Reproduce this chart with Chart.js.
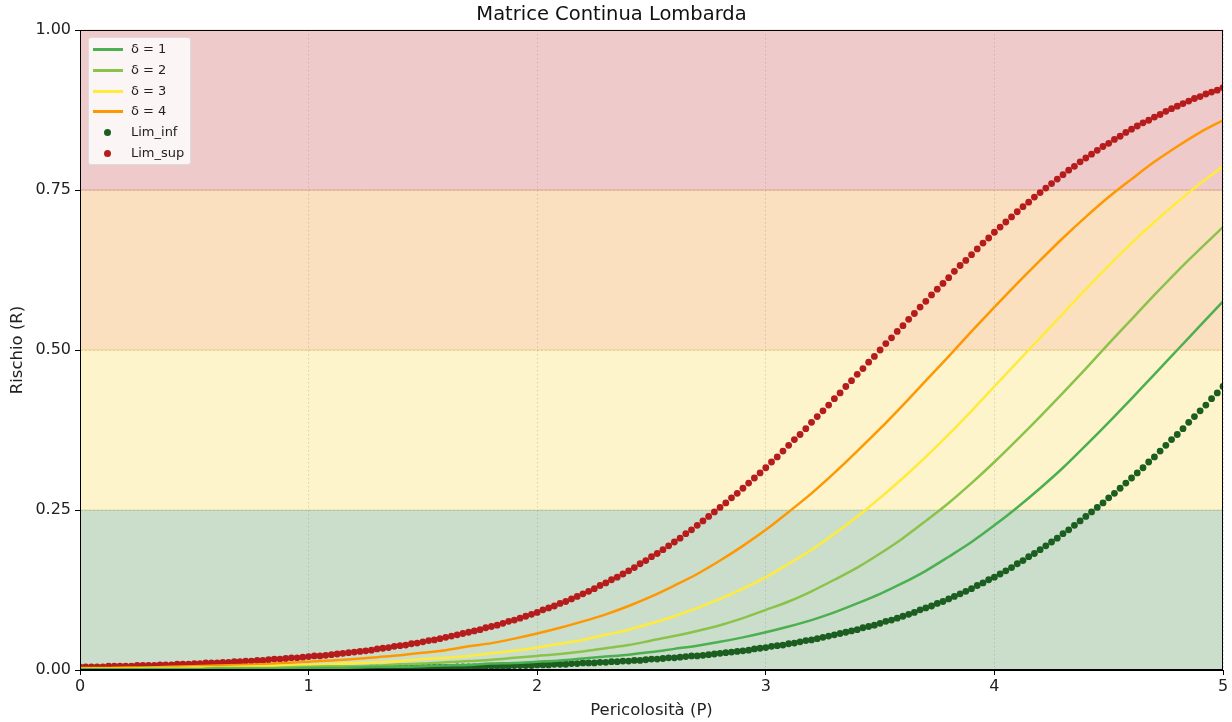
<!DOCTYPE html>
<html>
<head>
<meta charset="utf-8">
<script src="https://cdn.jsdelivr.net/npm/chart.js@4"></script>
<style>
  body { margin: 0; background: #fff; }
  #wrap { position: relative; width: 1232px; height: 722px; }
  #legend {
    position: absolute; left: 88px; top: 37px; width: 103px; height: 128px;
    background: rgba(255, 255, 255, 0.8); border: 1px solid #dcdcdc; border-radius: 3px;
    box-sizing: border-box; font-family: "DejaVu Sans", sans-serif; font-size: 13px; color: #222;
  }
  .row { position: absolute; left: 0; height: 18px; width: 100%; }
  .row .txt { position: absolute; left: 42px; top: 0; line-height: 18px; white-space: nowrap; }
  .row .ln { position: absolute; left: 4px; top: 8px; width: 30px; height: 3px; }
  .row .dot { position: absolute; left: 15px; top: 5.5px; width: 7px; height: 7px; border-radius: 50%; }
</style>
</head>
<body>
<div id="wrap">
  <canvas id="riskChart" width="1232" height="722"></canvas>
  <div id="legend"></div>
</div>
<script>
// asse x dei limiti (punti)
var limX = [
  0, 0.025, 0.05, 0.075, 0.1, 0.125, 0.15, 0.175,
  0.2, 0.225, 0.25, 0.275, 0.3, 0.325, 0.35, 0.375,
  0.4, 0.425, 0.45, 0.475, 0.5, 0.525, 0.55, 0.575,
  0.6, 0.625, 0.65, 0.675, 0.7, 0.725, 0.75, 0.775,
  0.8, 0.825, 0.85, 0.875, 0.9, 0.925, 0.95, 0.975,
  1.0, 1.025, 1.05, 1.075, 1.1, 1.125, 1.15, 1.175,
  1.2, 1.225, 1.25, 1.275, 1.3, 1.325, 1.35, 1.375,
  1.4, 1.425, 1.45, 1.475, 1.5, 1.525, 1.55, 1.575,
  1.6, 1.625, 1.65, 1.675, 1.7, 1.725, 1.75, 1.775,
  1.8, 1.825, 1.85, 1.875, 1.9, 1.925, 1.95, 1.975,
  2.0, 2.025, 2.05, 2.075, 2.1, 2.125, 2.15, 2.175,
  2.2, 2.225, 2.25, 2.275, 2.3, 2.325, 2.35, 2.375,
  2.4, 2.425, 2.45, 2.475, 2.5, 2.525, 2.55, 2.575,
  2.6, 2.625, 2.65, 2.675, 2.7, 2.725, 2.75, 2.775,
  2.8, 2.825, 2.85, 2.875, 2.9, 2.925, 2.95, 2.975,
  3.0, 3.025, 3.05, 3.075, 3.1, 3.125, 3.15, 3.175,
  3.2, 3.225, 3.25, 3.275, 3.3, 3.325, 3.35, 3.375,
  3.4, 3.425, 3.45, 3.475, 3.5, 3.525, 3.55, 3.575,
  3.6, 3.625, 3.65, 3.675, 3.7, 3.725, 3.75, 3.775,
  3.8, 3.825, 3.85, 3.875, 3.9, 3.925, 3.95, 3.975,
  4.0, 4.025, 4.05, 4.075, 4.1, 4.125, 4.15, 4.175,
  4.2, 4.225, 4.25, 4.275, 4.3, 4.325, 4.35, 4.375,
  4.4, 4.425, 4.45, 4.475, 4.5, 4.525, 4.55, 4.575,
  4.6, 4.625, 4.65, 4.675, 4.7, 4.725, 4.75, 4.775,
  4.8, 4.825, 4.85, 4.875, 4.9, 4.925, 4.95, 4.975,
  5.0
];

var limInf = [
  0, 0, 0, 0, 0, 0, 0, 0,
  0, 0.001, 0.001, 0.001, 0.001, 0.001, 0.001, 0.001,
  0.001, 0.001, 0.001, 0.001, 0.001, 0.001, 0.001, 0.001,
  0.001, 0.001, 0.001, 0.001, 0.001, 0.001, 0.001, 0.001,
  0.001, 0.001, 0.001, 0.001, 0.001, 0.001, 0.002, 0.002,
  0.002, 0.002, 0.002, 0.002, 0.002, 0.002, 0.002, 0.002,
  0.002, 0.002, 0.002, 0.003, 0.003, 0.003, 0.003, 0.003,
  0.003, 0.003, 0.003, 0.003, 0.004, 0.004, 0.004, 0.004,
  0.004, 0.004, 0.005, 0.005, 0.005, 0.005, 0.005, 0.006,
  0.006, 0.006, 0.006, 0.006, 0.007, 0.007, 0.007, 0.007,
  0.008, 0.008, 0.008, 0.009, 0.009, 0.009, 0.010, 0.010,
  0.011, 0.011, 0.011, 0.012, 0.012, 0.013, 0.013, 0.014,
  0.014, 0.015, 0.015, 0.016, 0.017, 0.017, 0.018, 0.019,
  0.019, 0.020, 0.021, 0.022, 0.022, 0.023, 0.024, 0.025,
  0.026, 0.027, 0.028, 0.029, 0.030, 0.031, 0.033, 0.034,
  0.035, 0.037, 0.038, 0.039, 0.041, 0.042, 0.044, 0.046,
  0.047, 0.049, 0.051, 0.053, 0.055, 0.057, 0.059, 0.061,
  0.063, 0.066, 0.068, 0.070, 0.073, 0.076, 0.078, 0.081,
  0.084, 0.087, 0.090, 0.094, 0.097, 0.100, 0.104, 0.107,
  0.111, 0.115, 0.119, 0.123, 0.127, 0.132, 0.136, 0.141,
  0.145, 0.150, 0.155, 0.160, 0.166, 0.171, 0.177, 0.182,
  0.188, 0.194, 0.200, 0.206, 0.213, 0.219, 0.226, 0.233,
  0.240, 0.247, 0.254, 0.261, 0.269, 0.276, 0.284, 0.292,
  0.300, 0.308, 0.316, 0.325, 0.333, 0.342, 0.351, 0.360,
  0.368, 0.377, 0.387, 0.396, 0.405, 0.414, 0.424, 0.433,
  0.443
];

var limSup = [
  0.005, 0.005, 0.005, 0.005, 0.005, 0.006, 0.006, 0.006,
  0.006, 0.006, 0.007, 0.007, 0.007, 0.007, 0.008, 0.008,
  0.008, 0.009, 0.009, 0.009, 0.010, 0.010, 0.011, 0.011,
  0.011, 0.012, 0.012, 0.013, 0.013, 0.014, 0.014, 0.015,
  0.015, 0.016, 0.017, 0.017, 0.018, 0.019, 0.019, 0.020,
  0.021, 0.022, 0.022, 0.023, 0.024, 0.025, 0.026, 0.027,
  0.028, 0.029, 0.030, 0.031, 0.033, 0.034, 0.035, 0.037,
  0.038, 0.039, 0.041, 0.042, 0.044, 0.046, 0.047, 0.049,
  0.051, 0.053, 0.055, 0.057, 0.059, 0.061, 0.063, 0.066,
  0.068, 0.070, 0.073, 0.076, 0.078, 0.081, 0.084, 0.087,
  0.090, 0.094, 0.097, 0.100, 0.104, 0.107, 0.111, 0.115,
  0.119, 0.123, 0.127, 0.132, 0.136, 0.141, 0.145, 0.150,
  0.155, 0.160, 0.166, 0.171, 0.177, 0.182, 0.188, 0.194,
  0.200, 0.206, 0.213, 0.219, 0.226, 0.233, 0.240, 0.247,
  0.254, 0.261, 0.269, 0.276, 0.284, 0.292, 0.300, 0.308,
  0.316, 0.325, 0.333, 0.342, 0.351, 0.360, 0.368, 0.377,
  0.387, 0.396, 0.405, 0.414, 0.424, 0.433, 0.443, 0.452,
  0.462, 0.471, 0.481, 0.490, 0.500, 0.510, 0.519, 0.529,
  0.538, 0.548, 0.557, 0.567, 0.576, 0.586, 0.595, 0.604,
  0.613, 0.623, 0.632, 0.640, 0.649, 0.658, 0.667, 0.675,
  0.684, 0.692, 0.700, 0.708, 0.716, 0.724, 0.731, 0.739,
  0.746, 0.753, 0.760, 0.767, 0.774, 0.781, 0.787, 0.794,
  0.800, 0.806, 0.812, 0.818, 0.823, 0.829, 0.834, 0.840,
  0.845, 0.850, 0.855, 0.859, 0.864, 0.868, 0.873, 0.877,
  0.881, 0.885, 0.889, 0.893, 0.896, 0.900, 0.903, 0.906,
  0.910
];

// curve delta (passo 0.1)
var lineX = [
  0, 0.1, 0.2, 0.3, 0.4, 0.5, 0.6, 0.7, 0.8, 0.9,
  1.0, 1.1, 1.2, 1.3, 1.4, 1.5, 1.6, 1.7, 1.8, 1.9,
  2.0, 2.1, 2.2, 2.3, 2.4, 2.5, 2.6, 2.7, 2.8, 2.9,
  3.0, 3.1, 3.2, 3.3, 3.4, 3.5, 3.6, 3.7, 3.8, 3.9,
  4.0, 4.1, 4.2, 4.3, 4.4, 4.5, 4.6, 4.7, 4.8, 4.9,
  5.0
];

var delta1 = [
  0.001, 0.001, 0.001, 0.001, 0.001, 0.001, 0.002, 0.002, 0.002, 0.002,
  0.003, 0.003, 0.004, 0.005, 0.005, 0.006, 0.007, 0.008, 0.010, 0.011,
  0.013, 0.015, 0.018, 0.021, 0.024, 0.028, 0.033, 0.038, 0.044, 0.051,
  0.059, 0.068, 0.078, 0.090, 0.104, 0.119, 0.136, 0.155, 0.177, 0.200,
  0.226, 0.254, 0.284, 0.316, 0.351, 0.387, 0.424, 0.462, 0.500, 0.538,
  0.576
];

var delta2 = [
  0.001, 0.001, 0.001, 0.002, 0.002, 0.002, 0.003, 0.003, 0.003, 0.004,
  0.005, 0.006, 0.006, 0.007, 0.009, 0.010, 0.012, 0.014, 0.016, 0.019,
  0.022, 0.025, 0.029, 0.034, 0.039, 0.046, 0.053, 0.061, 0.070, 0.081,
  0.094, 0.107, 0.123, 0.141, 0.160, 0.182, 0.206, 0.233, 0.261, 0.292,
  0.325, 0.360, 0.396, 0.433, 0.471, 0.510, 0.548, 0.586, 0.623, 0.658,
  0.692
];

var delta3 = [
  0.002, 0.002, 0.002, 0.003, 0.003, 0.004, 0.004, 0.005, 0.006, 0.007,
  0.008, 0.009, 0.011, 0.012, 0.014, 0.017, 0.019, 0.022, 0.026, 0.030,
  0.035, 0.041, 0.047, 0.055, 0.063, 0.073, 0.084, 0.097, 0.111, 0.127,
  0.145, 0.166, 0.188, 0.213, 0.240, 0.269, 0.300, 0.333, 0.368, 0.405,
  0.443, 0.481, 0.519, 0.557, 0.595, 0.632, 0.667, 0.700, 0.731, 0.760,
  0.787
];

var delta4 = [
  0.003, 0.003, 0.004, 0.004, 0.005, 0.006, 0.007, 0.008, 0.009, 0.011,
  0.013, 0.015, 0.017, 0.020, 0.023, 0.027, 0.031, 0.037, 0.042, 0.049,
  0.057, 0.066, 0.076, 0.087, 0.100, 0.115, 0.132, 0.150, 0.171, 0.194,
  0.219, 0.247, 0.276, 0.308, 0.342, 0.377, 0.414, 0.452, 0.490, 0.529,
  0.567, 0.604, 0.640, 0.675, 0.708, 0.739, 0.767, 0.794, 0.818, 0.840,
  0.859
];

// soglie delle fasce di rischio
var riskLevels = [0, 0.25, 0.5, 0.75, 1];
var bandColors = ['46, 125, 50', '247, 211, 51', '239, 131, 3', '191, 43, 47'];

var FONT = '"DejaVu Sans", sans-serif';

function pts(xs, ys) {
    return xs.map(function (x, i) { return { x: x, y: ys[i] }; });
}

var bandsPlugin = {
    id: 'bands',
    beforeDraw: function (chart) {
        var ctx = chart.ctx, a = chart.chartArea, y = chart.scales.y;
        ctx.save();
        ctx.fillStyle = '#fff';
        ctx.fillRect(0, 0, chart.width, chart.height);
        for (var i = 0; i < bandColors.length; i++) {
            var top = y.getPixelForValue(riskLevels[i + 1]);
            var bot = y.getPixelForValue(riskLevels[i]);
            ctx.fillStyle = 'rgba(' + bandColors[i] + ', 0.25)';
            ctx.fillRect(a.left, top, a.right - a.left, bot - top);
            ctx.strokeStyle = 'rgba(' + bandColors[i] + ', 0.18)';
            ctx.lineWidth = 1;
            ctx.beginPath();
            ctx.moveTo(a.left, top); ctx.lineTo(a.right, top);
            ctx.moveTo(a.left, bot); ctx.lineTo(a.right, bot);
            ctx.stroke();
        }
        ctx.restore();
    }
};

// cornice sopra i dati, come negli assi matplotlib
var framePlugin = {
    id: 'frame',
    afterDraw: function (chart) {
        var ctx = chart.ctx, a = chart.chartArea;
        ctx.save();
        ctx.strokeStyle = '#000';
        ctx.lineWidth = 1;
        ctx.strokeRect(Math.round(a.left) + 0.5, Math.round(a.top) + 0.5,
            Math.round(a.right - a.left) - 1, Math.round(a.bottom - a.top) - 1);
        ctx.restore();
    }
};

var lineOpts = { type: 'line', borderWidth: 2.5, pointRadius: 0, clip: 0, cubicInterpolationMode: 'monotone' };

var datasets = [
    Object.assign({ label: 'δ = 1', data: pts(lineX, delta1), borderColor: '#4caf50', backgroundColor: '#4caf50' }, lineOpts),
    Object.assign({ label: 'δ = 2', data: pts(lineX, delta2), borderColor: '#8bc34a', backgroundColor: '#8bc34a' }, lineOpts),
    Object.assign({ label: 'δ = 3', data: pts(lineX, delta3), borderColor: '#ffeb3b', backgroundColor: '#ffeb3b' }, lineOpts),
    Object.assign({ label: 'δ = 4', data: pts(lineX, delta4), borderColor: '#ff9800', backgroundColor: '#ff9800' }, lineOpts),
    { type: 'scatter', label: 'Lim_inf', data: pts(limX, limInf), backgroundColor: '#1b5e20', borderWidth: 0, pointRadius: 3.4, clip: 0 },
    { type: 'scatter', label: 'Lim_sup', data: pts(limX, limSup), backgroundColor: '#b71c1c', borderWidth: 0, pointRadius: 3.4, clip: 0 }
];

var gridOpts = { color: 'rgba(120, 120, 120, 0.28)', lineWidth: 1, tickLength: 5, tickColor: '#000' };
var borderOpts = { display: true, color: '#000', dash: [1.5, 2.5] };

var ctx = document.getElementById('riskChart').getContext('2d');
var riskChart = new Chart(ctx, {
    type: 'scatter',
    data: { datasets: datasets },
    options: {
        responsive: false,
        animation: false,
        events: [],
        layout: { padding: { left: 0, right: 9, top: 0, bottom: 0 } },
        plugins: {
            legend: { display: false },
            tooltip: { enabled: false },
            title: {
                display: true,
                text: 'Matrice Continua Lombarda',
                color: '#111',
                font: { family: FONT, size: 19.5, weight: 'normal' },
                padding: { top: 3, bottom: 3.6 }
            }
        },
        scales: {
            x: {
                type: 'linear',
                min: 0,
                max: 5,
                afterFit: function (s) { s.height = 52; },
                ticks: { stepSize: 1, color: '#222', padding: 2, font: { family: FONT, size: 16 } },
                grid: gridOpts,
                border: borderOpts,
                title: { display: true, text: 'Pericolosità (P)', color: '#222', font: { family: FONT, size: 16.5 }, padding: { top: 0, bottom: 1 } }
            },
            y: {
                min: 0,
                max: 1,
                afterFit: function (s) { s.width = 80; },
                ticks: {
                    stepSize: 0.25, color: '#222', padding: 4, font: { family: FONT, size: 16 },
                    callback: function (v) { return Number(v).toFixed(2); }
                },
                grid: gridOpts,
                border: borderOpts,
                title: { display: true, text: 'Rischio (R)', color: '#222', font: { family: FONT, size: 16.5 }, padding: { top: 8, bottom: 0 } }
            }
        }
    },
    plugins: [bandsPlugin, framePlugin]
});

// legenda dentro l'area del grafico
var legend = document.getElementById('legend');
datasets.forEach(function (ds, i) {
    var row = document.createElement('div');
    row.className = 'row';
    row.style.top = (2 + i * 20.8) + 'px';
    var mark = document.createElement('span');
    if (ds.type === 'line') {
        mark.className = 'ln';
        mark.style.background = ds.borderColor;
    } else {
        mark.className = 'dot';
        mark.style.background = ds.backgroundColor;
    }
    var txt = document.createElement('span');
    txt.className = 'txt';
    txt.textContent = ds.label;
    row.appendChild(mark);
    row.appendChild(txt);
    legend.appendChild(row);
});
</script>
</body>
</html>
